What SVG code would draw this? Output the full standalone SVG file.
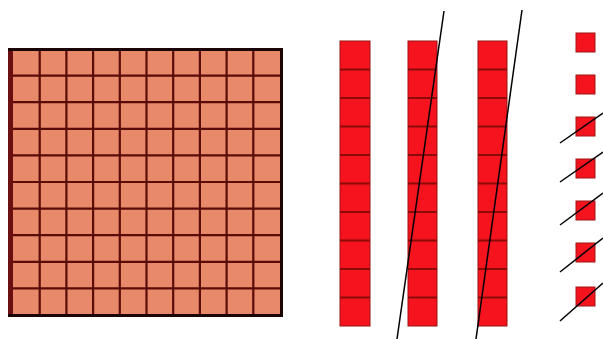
<svg xmlns="http://www.w3.org/2000/svg" width="603" height="339" viewBox="0 0 603 339">
<style>
.grid{stroke:#5a0c08;stroke-width:2.2;fill:none}
.rod{fill:#f5141e;stroke:#9a1010;stroke-width:1}
.div{stroke:#8a0a0a;stroke-width:2}
.sq{fill:#f5141e;stroke:#a01515;stroke-width:1}
.slash{stroke:#000;stroke-width:1.5;fill:none}
</style>
<rect width="603" height="339" fill="#fff"/>
<g id="hundred">
<rect x="10" y="49" width="271" height="266" fill="#e8896a"/>
<path class="grid" d="M39.7 49V315M66.4 49V315M93.1 49V315M119.8 49V315M146.5 49V315M173.2 49V315M199.9 49V315M226.6 49V315M253.3 49V315M13 75.6H280M13 102.2H280M13 128.8H280M13 155.4H280M13 182H280M13 208.6H280M13 235.2H280M13 261.8H280M13 288.4H280"/>
<rect x="8" y="50" width="5" height="266" fill="#6b1010"/>
<path d="M8 49.5H281.5V315.5H8" fill="none" stroke="#1a0404" stroke-width="3"/>
</g>
<g id="rod1">
<rect class="rod" x="340" y="41" width="30" height="285"/>
<path class="div" d="M340 69.5H370M340 98H370M340 126.5H370M340 155H370M340 183.5H370M340 212H370M340 240.5H370M340 269H370M340 297.5H370"/>
</g>
<g id="rod2">
<rect class="rod" x="408" y="41" width="29" height="285"/>
<path class="div" d="M408 69.5H437M408 98H437M408 126.5H437M408 155H437M408 183.5H437M408 212H437M408 240.5H437M408 269H437M408 297.5H437"/>
</g>
<g id="rod3">
<rect class="rod" x="478" y="41" width="29" height="285"/>
<path class="div" d="M478 69.5H507M478 98H507M478 126.5H507M478 155H507M478 183.5H507M478 212H507M478 240.5H507M478 269H507M478 297.5H507"/>
</g>
<g id="units">
<rect class="sq" x="576" y="33" width="19" height="19"/>
<rect class="sq" x="576" y="75" width="19" height="19"/>
<rect class="sq" x="576" y="117" width="19" height="19"/>
<rect class="sq" x="576" y="159" width="19" height="19"/>
<rect class="sq" x="576" y="201" width="19" height="19"/>
<rect class="sq" x="576" y="243" width="19" height="19"/>
<rect class="sq" x="576" y="287" width="19" height="19"/>
</g>
<g id="connectors">
<path class="slash" d="M444 11L397 339"/>
<path class="slash" d="M522 10L476 339"/>
<path class="slash" d="M560 143L603 113"/>
<path class="slash" d="M560 182L603 152"/>
<path class="slash" d="M560 225L603 193"/>
<path class="slash" d="M560 272L603 238"/>
<path class="slash" d="M560 321L603 283"/>
</g>
</svg>
